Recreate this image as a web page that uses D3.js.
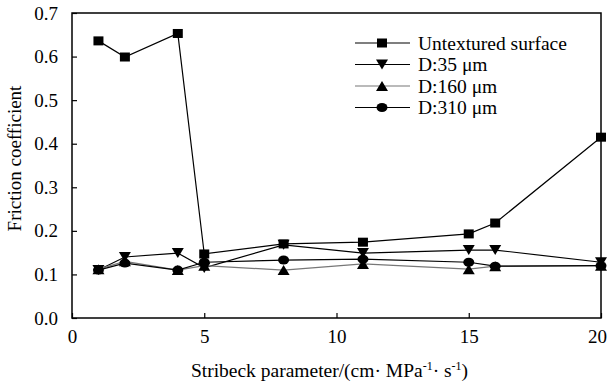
<!DOCTYPE html>
<html>
<head>
<meta charset="utf-8">
<script src="https://cdn.jsdelivr.net/npm/d3@7"></script>
<style>
  body { margin: 0; background: #fff; }
  text { font-family: "Liberation Serif", "Times New Roman", serif; }
</style>
</head>
<body>
<div id="chart"></div>
<script>
// data
var stribeck = [1, 2, 4, 5, 8, 11, 15, 16, 20];
var untextured = [0.636, 0.599, 0.653, 0.147, 0.17, 0.174, 0.193, 0.218, 0.415];
var d35 = [0.11, 0.14, 0.149, 0.115, 0.168, 0.149, 0.156, 0.156, 0.128];
var d160 = [0.112, 0.13, 0.11, 0.12, 0.11, 0.124, 0.112, 0.119, 0.12];
var d310 = [0.11, 0.126, 0.11, 0.128, 0.133, 0.135, 0.128, 0.119, 0.12];
var seriesNames = ["Untextured surface", "D:35 \u03bcm", "D:160 \u03bcm", "D:310 \u03bcm"];
var xTicks = [0, 5, 10, 15, 20];
var yTicks = [0, 0.1, 0.2, 0.3, 0.4, 0.5, 0.6, 0.7];

var W = 609, H = 385;
var margin = { top: 13, right: 8, bottom: 67, left: 72 },
  width = W - margin.left - margin.right,
  height = H - margin.top - margin.bottom;

var svg = d3.select("#chart").append("svg")
  .attr("width", W).attr("height", H)
  .append("g")
  .attr("transform", "translate(" + margin.left + "," + margin.top + ")");

var x = d3.scaleLinear().domain([0, 20]).range([0, width]);
var y = d3.scaleLinear().domain([0, 0.7]).range([height, 0]);

// frame
svg.append("rect")
  .attr("width", width).attr("height", height)
  .attr("fill", "none").attr("stroke", "#000").attr("stroke-width", 1.5);

// axes, ticks pointing inside
var xAxis = svg.append("g")
  .attr("transform", "translate(0," + height + ")")
  .call(d3.axisBottom(x).tickValues(xTicks).tickSize(-5).tickPadding(12).tickFormat(d3.format("d")));
var yAxis = svg.append("g")
  .call(d3.axisLeft(y).tickValues(yTicks).tickSize(-5).tickPadding(14).tickFormat(d3.format(".1f")));
[xAxis, yAxis].forEach(function (a) {
  a.select(".domain").remove();
  a.selectAll("line").attr("stroke", "#000").attr("stroke-width", 1.2);
  a.selectAll("text").attr("font-size", 19).attr("fill", "#000")
    .style("font-family", "Liberation Serif, serif");
});
// keep the last x label inside the page
xAxis.selectAll("text").filter(function (d) { return d === 20; }).attr("dx", -4);

var series = [
  { name: seriesNames[0], values: untextured, shape: "square", color: "#000" },
  { name: seriesNames[1], values: d35, shape: "down", color: "#000" },
  { name: seriesNames[2], values: d160, shape: "up", color: "#777" },
  { name: seriesNames[3], values: d310, shape: "circle", color: "#000" }
];

function marker(g, shape) {
  if (shape === "square") {
    g.append("rect").attr("x", -5).attr("y", -4.5).attr("width", 10).attr("height", 9);
  } else if (shape === "down") {
    g.append("path").attr("d", "M-6,-5L6,-5L0,5Z");
  } else if (shape === "up") {
    g.append("path").attr("d", "M-6,5L6,5L0,-5Z");
  } else {
    g.append("ellipse").attr("rx", 5.5).attr("ry", 4.5);
  }
  g.attr("fill", "#000");
}

var line = d3.line()
  .x(function (d, i) { return x(stribeck[i]); })
  .y(function (d) { return y(d); });

series.forEach(function (s) {
  svg.append("path")
    .datum(s.values)
    .attr("fill", "none")
    .attr("stroke", s.color)
    .attr("stroke-width", 1.2)
    .attr("d", line);
});
series.forEach(function (s) {
  s.values.forEach(function (v, i) {
    var g = svg.append("g")
      .attr("transform", "translate(" + x(stribeck[i]) + "," + y(v) + ")");
    marker(g, s.shape);
  });
});

// legend
var legend = svg.append("g").attr("transform", "translate(" + (355 - margin.left) + "," + (43 - margin.top) + ")");
series.forEach(function (s, i) {
  var row = legend.append("g").attr("transform", "translate(0," + i * 21.5 + ")");
  row.append("line").attr("x1", 0).attr("x2", 55).attr("stroke", s.color).attr("stroke-width", 1.2);
  marker(row.append("g").attr("transform", "translate(27,0)"), s.shape);
  row.append("text").attr("x", 63).attr("y", 6.5).attr("font-size", 19.5).text(s.name);
});

// axis titles
svg.append("text")
  .attr("text-anchor", "middle")
  .attr("transform", "rotate(-90)")
  .attr("x", -height / 2 + 7)
  .attr("y", -margin.left + 21)
  .attr("font-size", 19)
  .text("Friction coefficient");

var xt = svg.append("text")
  .attr("text-anchor", "middle")
  .attr("x", width / 2 - 7)
  .attr("y", height + 59)
  .attr("font-size", 19.5);
xt.append("tspan").text("Stribeck parameter/(cm\u00b7 MPa");
xt.append("tspan").attr("dy", -7).attr("font-size", 12).text("-1");
xt.append("tspan").attr("dy", 7).text("\u00b7 s");
xt.append("tspan").attr("dy", -7).attr("font-size", 12).text("-1");
xt.append("tspan").attr("dy", 7).text(")");
</script>
</body>
</html>
